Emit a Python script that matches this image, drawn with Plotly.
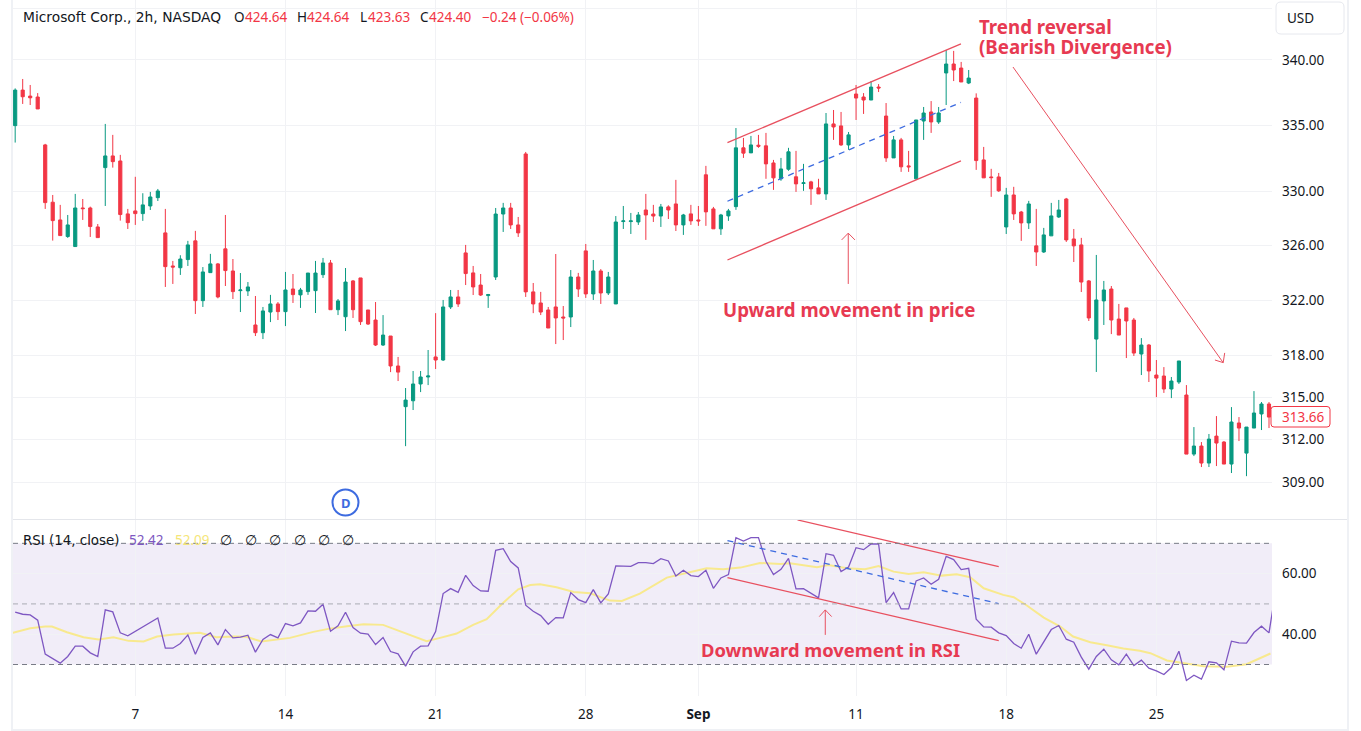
import plotly.graph_objects as go

WIDTH = 1361
HEIGHT = 731

RED = '#F23645'
GREEN = '#089981'
NOTE_RED = '#E73A52'
LINE_RED = '#E8505F'
BLUE = '#3D6BE0'
GRID = '#F1F2F5'
TEXT = '#131722'
PURPLE = '#7E57C2'
YELLOW = '#F8E98E'
FONT = 'Noto Sans'
WIDE_FONT = 'DejaVu Sans'

# one entry per 2h bar
opens = [
    334.98, 337.69, 337.23, 337.16, 333.52, 329.22, 327.90, 326.67, 325.93, 328.79, 328.79, 327.38,
    331.81, 332.69, 332.31, 328.35, 328.57, 328.37, 328.94, 329.56, 326.94, 324.50, 324.37, 324.97,
    326.35, 321.96, 324.01, 324.65, 325.76, 324.13, 322.69, 322.67, 320.19, 319.63, 321.13, 321.72,
    321.16, 322.81, 322.38, 322.62, 322.69, 323.86, 324.72, 321.30,
    320.79, 323.40, 323.62, 321.28, 320.55, 318.74, 319.39, 317.23, 314.32, 314.74, 315.94, 316.44,
    317.88, 317.66, 321.50, 322.23, 325.46, 323.99, 323.10, 322.33, 323.69, 328.34, 328.79, 327.53,
    332.84, 322.60, 321.79, 321.28, 321.50, 320.77, 320.77, 323.69, 325.61, 322.45, 324.13, 322.52,
    321.72, 327.78, 327.78, 327.75, 328.64, 328.34, 328.19, 328.87, 329.09,
    327.53, 328.35, 327.90, 331.27, 328.72, 327.24, 328.20, 328.89, 333.30, 332.92, 333.50, 333.45,
    332.16, 330.97, 331.69, 331.12, 330.62, 330.74, 330.29, 329.84, 335.11, 334.96, 333.52, 337.39,
    337.16, 336.93, 337.92, 335.71, 332.54, 333.90, 331.94, 330.97, 335.33, 336.02, 335.26, 339.00,
    339.69, 339.38, 338.23,
    337.08, 332.39, 331.11, 331.11, 327.38, 329.76, 328.49, 327.68, 325.98, 325.53, 326.72, 328.12,
    329.46, 326.49, 326.05, 323.40, 319.17, 321.94, 322.81, 320.62, 321.43, 320.55, 318.09, 318.74,
    316.58, 316.51, 315.58, 316.08, 315.15, 310.96, 311.53, 310.33, 312.23, 311.81, 310.26, 313.16,
    311.03, 312.80, 313.80, 314.51,
]
highs = [
    337.82, 338.54, 338.08, 337.46, 333.60, 329.76, 329.02, 328.27, 329.84, 329.46, 328.89, 327.60,
    335.11, 334.28, 332.77, 328.72, 331.12, 329.89, 329.99, 330.21, 328.72, 324.87, 325.29, 326.35,
    327.09, 324.42, 325.39, 324.72, 328.27, 325.01, 323.98, 323.32, 322.30, 321.50, 322.38, 321.86,
    324.06, 323.91, 322.89, 323.98, 324.87, 325.09, 324.94, 322.08,
    324.35, 323.47, 323.62, 321.28, 321.86, 320.91, 319.39, 317.88, 315.65, 316.87, 316.87, 318.38,
    321.05, 322.01, 322.74, 322.74, 326.05, 324.50, 323.91, 322.45, 328.79, 329.17, 329.17, 328.12,
    332.99, 323.25, 322.60, 321.50, 325.38, 321.57, 324.20, 323.99, 326.12, 324.94, 324.27, 324.06,
    328.19, 328.94, 328.42, 328.49, 329.84, 329.02, 329.09, 328.99, 330.89,
    328.35, 329.02, 328.94, 331.94, 328.87, 328.35, 328.72, 334.80, 334.05, 334.20, 334.28, 334.43,
    332.39, 332.54, 333.30, 333.07, 332.09, 330.82, 330.97, 335.94, 336.17, 336.02, 334.50, 338.08,
    337.46, 338.38, 338.15, 336.70, 334.20, 334.05, 333.07, 335.41, 336.40, 336.85, 336.40, 340.77,
    340.70, 339.85, 339.23,
    337.44, 333.37, 331.72, 331.41, 330.29, 330.37, 328.57, 329.32, 328.72, 327.31, 329.17, 329.39,
    329.54, 327.23, 326.57, 323.47, 325.31, 323.40, 323.03, 321.72, 321.43, 320.70, 319.24, 318.81,
    317.66, 317.15, 316.44, 317.59, 315.86, 312.87, 311.81, 312.38, 313.65, 311.88, 314.29, 313.58,
    312.87, 315.43, 314.65, 314.65,
]
lows = [
    333.70, 336.63, 336.55, 336.25, 328.72, 326.37, 326.74, 326.57, 325.93, 327.90, 326.64, 326.59,
    328.94, 331.81, 327.85, 327.23, 327.53, 327.83, 328.64, 329.31, 322.96, 323.18, 323.84, 324.50,
    320.99, 321.50, 324.01, 322.13, 323.03, 322.08, 321.13, 322.30, 319.39, 319.17, 320.40, 320.55,
    320.11, 321.79, 321.43, 322.38, 321.06, 323.62, 321.30, 320.91,
    319.75, 320.70, 320.19, 320.19, 318.67, 318.67, 316.79, 316.15, 311.52, 314.08, 315.36, 315.86,
    317.01, 317.59, 321.35, 321.50, 323.10, 322.37, 322.30, 321.43, 323.47, 327.01, 327.23, 326.64,
    322.23, 321.05, 320.91, 319.97, 318.81, 319.10, 320.04, 322.23, 322.16, 322.01, 321.72, 322.37,
    321.72, 327.23, 326.86, 327.53, 326.42, 327.75, 327.38, 327.97, 327.08,
    326.79, 327.53, 327.46, 327.46, 327.24, 326.79, 327.83, 328.65, 332.54, 332.92, 333.30, 330.97,
    330.14, 330.82, 331.57, 329.99, 330.07, 329.02, 329.84, 329.39, 333.90, 333.45, 333.15, 335.41,
    335.87, 336.93, 337.54, 332.24, 332.54, 331.49, 331.49, 330.89, 333.90, 334.43, 335.11, 336.55,
    338.38, 338.31, 338.15,
    331.64, 331.04, 329.62, 329.99, 326.86, 327.90, 326.35, 327.23, 324.50, 325.46, 326.72, 328.05,
    326.27, 324.79, 322.59, 320.48, 316.80, 320.19, 319.53, 319.46, 317.80, 317.95, 316.58, 316.08,
    315.00, 315.30, 314.93, 315.94, 310.96, 310.82, 310.05, 310.05, 310.12, 310.26, 309.63, 311.88,
    309.41, 312.80, 312.66, 312.80,
]
closes = [
    337.69, 337.18, 337.10, 336.25, 329.19, 327.85, 326.74, 327.53, 328.79, 328.74, 327.41, 326.59,
    332.69, 332.26, 328.30, 327.70, 328.37, 329.02, 329.61, 330.06, 324.45, 324.42, 325.01, 326.05,
    321.96, 324.06, 324.65, 322.23, 324.16, 322.62, 322.74, 322.96, 319.63, 321.21, 321.72, 321.16,
    322.74, 322.40, 322.74, 323.98, 323.98, 324.72, 321.30, 321.94,
    323.32, 321.30, 320.43, 320.26, 318.74, 319.46, 317.23, 316.79, 314.79, 315.94, 316.44, 316.51,
    317.66, 321.50, 322.23, 321.72, 323.94, 322.96, 322.37, 322.40, 328.34, 328.79, 327.53, 326.94,
    322.60, 321.72, 321.13, 319.97, 320.70, 320.70, 323.69, 322.81, 322.45, 324.13, 322.52, 323.69,
    327.75, 327.83, 327.83, 328.27, 328.27, 328.19, 328.87, 328.64, 327.53,
    328.27, 327.83, 327.83, 328.50, 327.24, 328.27, 328.57, 333.30, 332.90, 333.52, 333.42, 332.09,
    331.04, 331.71, 333.00, 330.59, 330.67, 330.22, 329.84, 335.11, 334.88, 333.52, 334.28, 337.08,
    336.93, 337.92, 337.85, 332.54, 333.90, 331.87, 331.87, 335.41, 335.94, 335.26, 335.94, 339.69,
    339.23, 338.31, 338.61,
    332.34, 331.04, 331.06, 330.07, 329.76, 328.35, 327.68, 329.09, 325.53, 326.79, 328.20, 328.64,
    326.42, 325.98, 323.32, 320.70, 322.01, 322.74, 320.55, 319.46, 320.48, 318.16, 318.74, 316.87,
    316.36, 315.58, 316.15, 317.59, 310.96, 311.53, 310.33, 312.02, 311.74, 310.26, 313.23, 312.80,
    312.87, 313.87, 314.51, 313.58,
]

rsi = [
    47.25, 46.59, 46.37, 44.62, 33.41, 31.87, 30.44, 32.64, 36.04, 36.04, 33.85, 32.64, 48.02, 47.36,
    40.44, 39.45, 40.99, 42.53, 44.07, 45.38, 35.38, 35.38, 36.92, 39.78, 33.41, 38.90, 40.44, 36.48,
    41.54, 38.79, 39.01, 39.67, 34.07, 38.24, 39.89, 38.79, 43.52, 42.75, 43.74, 47.69, 47.58, 49.89,
    40.99, 42.75, 47.25, 42.20, 40.33, 40.00, 36.59, 38.90, 34.29, 33.52, 29.45, 34.18, 36.04, 36.15,
    40.88, 53.41, 55.05, 53.85,
    59.45, 56.04, 54.29, 54.18, 67.69, 68.24, 63.96, 61.87, 49.56, 47.58, 46.15, 43.30, 45.49, 45.38,
    53.74, 51.43, 50.44, 54.73, 50.33, 53.30, 62.53, 62.53, 62.42, 63.63, 63.63, 63.30, 64.95, 64.18,
    59.23, 61.10, 59.34, 59.01, 61.10, 55.16, 58.57, 59.67, 71.87, 70.77, 71.87, 71.87, 64.07, 59.67,
    61.43, 65.05, 54.95, 55.05, 53.41, 51.98, 66.59, 66.04, 60.66, 62.20, 68.57, 67.91, 69.78, 69.78,
    50.44, 53.74,
    48.35, 48.35, 57.58, 58.57, 56.48, 58.13, 65.71, 64.62, 61.32, 61.76, 44.95, 42.42, 42.31, 40.44,
    39.56, 36.92, 35.38, 40.00, 33.41, 37.36, 41.54, 42.86, 38.35, 37.36, 32.42, 28.46, 32.64, 35.05,
    31.54, 29.89, 33.41, 29.67, 31.43, 28.79, 27.91, 26.70, 29.01, 34.40, 24.73, 26.48, 25.16, 30.88,
    30.55, 28.24, 37.69, 37.14, 37.03, 40.55, 42.64, 40.44, 56.04,
]

# yellow smoothing line, read at the bends only
rsi_ma_bars = [
    -0.3, 2.0, 4.0, 4.9, 6.9, 9.1, 11.1, 13.1, 15.1, 17.1, 18.9, 21.1, 24.6, 26.8, 29.1, 30.8, 32.8,
    36.6, 39.7, 41.7, 44.2, 46.4, 49.0, 51.3, 54.8, 56.6, 58.8, 61.0, 62.8, 64.8, 67.0, 68.6, 69.9,
    72.1, 74.4, 76.6, 77.9, 79.2, 80.8, 83.2, 86.8, 89.0, 92.1, 94.3, 96.6, 99.2, 101.9, 103.2, 106.8,
    108.3, 110.8, 113.2, 115.0, 117.0, 119.0, 121.0, 123.4, 125.4, 127.2, 129.0, 131.6, 133.0, 134.7,
    137.0, 139.2, 140.9, 143.2, 145.4, 147.6, 149.8, 151.2, 153.4, 155.6, 158.3, 161.4, 164.0, 167.2,
]
rsi_ma = [
    40.44, 41.98, 42.53, 42.53, 40.66, 39.01, 38.24, 39.01, 37.80, 37.58, 39.23, 39.89, 40.44, 39.01,
    39.23, 39.12, 37.58, 38.79, 40.77, 41.76, 42.64, 43.30, 43.08, 40.99, 37.69, 38.79, 40.22, 43.08,
    44.95, 49.89, 54.84, 56.26, 56.48, 55.49, 53.96, 53.52, 52.42, 51.10, 50.99, 53.41, 58.68, 59.89,
    61.76, 61.43, 61.98, 63.52, 63.19, 63.41, 62.09, 62.86, 61.76, 61.43, 62.53, 60.66, 59.89, 60.44,
    59.34, 59.78, 58.79, 55.16, 52.97, 52.20, 49.56, 45.49, 42.53, 39.23, 37.36, 36.37, 35.27, 34.51,
    33.74, 31.32, 30.44, 29.45, 29.23, 30.11, 33.63,
]

price_ticks = [344, 340, 335, 330, 326, 322, 318, 315, 312, 309]
price_labels = ['', '340.00', '335.00', '330.00', '326.00', '322.00', '318.00', '315.00', '312.00', '309.00']
rsi_ticks = [60, 40]
rsi_labels = ['60.00', '40.00']
date_bars = [16, 36, 56, 76, 91, 112, 132, 152]
date_labels = ['7', '14', '21', '28', '<b>Sep</b>', '11', '18', '25']

# hand drawn lines on the chart, as (bars, values)
price_channel_top = ([94.87, 125.97], [333.70, 341.24])
price_channel_bottom = ([94.87, 125.97], [324.94, 332.32])
price_channel_mid = ([94.87, 125.97], [329.29, 336.75])
up_arrow = ([110.96, 110.96, None, 110.08, 110.96, 111.85], [323.18, 326.92, None, 326.42, 326.92, 326.42])
reversal_arrow = ([132.9, 160.9, None, 161.1, 160.9, 159.8], [339.46, 317.47, None, 318.17, 317.47, 317.66])
rsi_channel_top = ([104.2, 131.0], [77.72, 62.31])
rsi_channel_bottom = ([94.87, 131.0], [58.68, 37.89])
rsi_channel_mid = ([94.87, 131.0], [70.89, 50.10])
rsi_arrow = ([107.9, 107.9, None, 107.1, 107.9, 108.75], [39.77, 48.02, None, 45.81, 48.02, 45.81])


def px(x):
    return x / WIDTH


def py(y):
    return 1 - y / HEIGHT


def rounded_box(x0, y0, x1, y1, r, line, fill='white'):
    path = (
        f'M {px(x0 + r)} {py(y0)} L {px(x1 - r)} {py(y0)} Q {px(x1)} {py(y0)} {px(x1)} {py(y0 + r)} '
        f'L {px(x1)} {py(y1 - r)} Q {px(x1)} {py(y1)} {px(x1 - r)} {py(y1)} '
        f'L {px(x0 + r)} {py(y1)} Q {px(x0)} {py(y1)} {px(x0)} {py(y1 - r)} '
        f'L {px(x0)} {py(y0 + r)} Q {px(x0)} {py(y0)} {px(x0 + r)} {py(y0)} Z'
    )
    return dict(type='path', xref='paper', yref='paper', path=path, line=dict(color=line, width=1), fillcolor=fill)


def note(x, y, text, size=13.5, color=TEXT, anchor='left', family=FONT):
    # annotations sit about 2px inside their anchor
    if anchor == 'left':
        x = x - 2
    return dict(
        xref='paper', yref='paper', x=px(x), y=py(y), text=text, showarrow=False,
        xanchor=anchor, yanchor='middle', align='left', font=dict(family=family, size=size, color=color),
    )


def draw_line(xs, ys, color, yaxis, width=1.3, dash='solid'):
    return go.Scatter(
        x=xs, y=ys, mode='lines', xaxis='x' if yaxis == 'y' else 'x2', yaxis=yaxis,
        line=dict(color=color, width=width, dash=dash), hoverinfo='skip',
    )


fig = go.Figure()
fig.add_trace(go.Candlestick(
    x=list(range(len(opens))), open=opens, high=highs, low=lows, close=closes,
    increasing=dict(line=dict(color=GREEN, width=1), fillcolor=GREEN),
    decreasing=dict(line=dict(color=RED, width=1), fillcolor=RED),
    whiskerwidth=0,
))
fig.add_trace(draw_line(*price_channel_top, LINE_RED, 'y'))
fig.add_trace(draw_line(*price_channel_bottom, LINE_RED, 'y'))
fig.add_trace(draw_line(*price_channel_mid, BLUE, 'y', dash='6px,5px'))
fig.add_trace(draw_line(*up_arrow, LINE_RED, 'y', width=1))
fig.add_trace(draw_line(*reversal_arrow, LINE_RED, 'y', width=1))

fig.add_trace(draw_line(rsi_ma_bars, rsi_ma, YELLOW, 'y2', width=2))
fig.add_trace(draw_line(list(range(len(rsi))), rsi, PURPLE, 'y2', width=1.3))
fig.add_trace(draw_line(*rsi_channel_top, LINE_RED, 'y2'))
fig.add_trace(draw_line(*rsi_channel_bottom, LINE_RED, 'y2'))
fig.add_trace(draw_line(*rsi_channel_mid, BLUE, 'y2', dash='6px,5px'))
fig.add_trace(draw_line(*rsi_arrow, LINE_RED, 'y2', width=1))

shapes = [
    # rsi band and its dashed levels
    dict(type='rect', xref='x2 domain', yref='y2', x0=0, x1=1, y0=30, y1=70,
         fillcolor='rgba(126,87,194,0.11)', line_width=0, layer='below'),
    dict(type='line', xref='x2 domain', yref='y2', x0=0, x1=1, y0=70, y1=70, line=dict(color='#787B86', width=1, dash='5px,4px')),
    dict(type='line', xref='x2 domain', yref='y2', x0=0, x1=1, y0=50, y1=50, line=dict(color='#A9ABB3', width=1, dash='5px,4px')),
    dict(type='line', xref='x2 domain', yref='y2', x0=0, x1=1, y0=30, y1=30, line=dict(color='#787B86', width=1, dash='5px,4px')),
    # pane separator and outer frame
    dict(type='line', xref='paper', yref='paper', x0=px(13), x1=px(1348), y0=py(519.5), y1=py(519.5), line=dict(color='#E4E6EB', width=1)),
    dict(type='line', xref='paper', yref='paper', x0=px(12), x1=px(12), y0=0, y1=1, line=dict(color='#EFF1F5', width=2)),
    dict(type='line', xref='paper', yref='paper', x0=px(1348), x1=px(1348), y0=0, y1=1, line=dict(color='#EFF1F5', width=2)),
    dict(type='line', xref='paper', yref='paper', x0=px(12), x1=px(1348), y0=py(730), y1=py(730), line=dict(color='#EFF1F5', width=2)),
    # boxes on the price scale and the dividend marker
    rounded_box(1276, 2, 1344, 34, 5, '#E6E8EE'),
    rounded_box(1271, 406.5, 1330, 427, 3, RED),
    dict(type='circle', xref='paper', yref='paper', x0=px(332.5), x1=px(358.5), y0=py(489.5), y1=py(515.5),
         line=dict(color=BLUE, width=2), fillcolor='white'),
]

annotations = [
    note(23, 17, 'Microsoft Corp., 2h, NASDAQ', size=13.8, family=WIDE_FONT),
    note(234, 17, 'O'),
    note(245, 17, '424.64', color=RED),
    note(297, 17, 'H'),
    note(307, 17, '424.64', color=RED),
    note(360, 17, 'L'),
    note(368, 17, '423.63', color=RED),
    note(420, 17, 'C'),
    note(429, 17, '424.40', color=RED),
    note(482, 17, '\u22120.24 (\u22120.06%)', color=RED),
    note(23, 540, 'RSI (14, close)', size=13.4, family=WIDE_FONT),
    note(129, 540, '52.42', color=PURPLE),
    note(175, 540, '52.09', color='#F5E679'),
    note(1287, 18, 'USD'),
    note(1282, 417, '313.66', color=RED),
    note(345.5, 502.5, '<b>D</b>', size=13, color=BLUE, anchor='center'),
    note(979, 26.5, '<b>Trend reversal</b>', size=18.7, color=NOTE_RED),
    note(979, 47, '<b>(Bearish Divergence)</b>', size=18.7, color=NOTE_RED),
    note(723, 309.5, '<b>Upward movement in price</b>', size=18.7, color=NOTE_RED),
    note(701, 649.5, '<b>Downward movement in RSI</b>', size=18.4, color=NOTE_RED),
]
for x in [226, 251, 275, 300, 324, 348]:
    annotations.append(note(x, 540, '\u2205', anchor='center'))

x_range = [-0.29, 167.4]
fig.update_layout(
    width=WIDTH, height=HEIGHT, margin=dict(l=0, r=0, t=0, b=0),
    paper_bgcolor='white', plot_bgcolor='white', showlegend=False, boxgap=0.4,
    font=dict(family=FONT, size=13.5, color=TEXT),
    shapes=shapes, annotations=annotations,
    xaxis=dict(
        domain=[px(13), px(1272)], range=x_range, anchor='y', rangeslider=dict(visible=False),
        tickmode='array', tickvals=date_bars, showticklabels=False, ticks='',
        showgrid=True, gridcolor=GRID, zeroline=False, showline=False,
    ),
    yaxis=dict(
        domain=[py(519), 1], type='log', range=[2.48632, 2.53738], side='right', anchor='x',
        tickmode='array', tickvals=price_ticks, ticktext=price_labels, ticklabelstandoff=9, ticks='',
        showgrid=True, gridcolor=GRID, zeroline=False, showline=False,
    ),
    xaxis2=dict(
        domain=[px(13), px(1272)], range=x_range, anchor='y2',
        tickmode='array', tickvals=date_bars, ticktext=date_labels, ticklabelstandoff=8, ticks='',
        showgrid=True, gridcolor=GRID, zeroline=False, showline=False,
    ),
    yaxis2=dict(
        domain=[py(696), py(520)], range=[19.6, 77.7], side='right', anchor='x2',
        tickmode='array', tickvals=rsi_ticks, ticktext=rsi_labels, ticklabelstandoff=9, ticks='',
        showgrid=True, gridcolor=GRID, zeroline=False, showline=False,
    ),
)

fig.write_html(
    "out.html",
    config={'displayModeBar': False},
    post_script="document.body.style.margin='0';document.body.style.overflow='hidden';",
)
